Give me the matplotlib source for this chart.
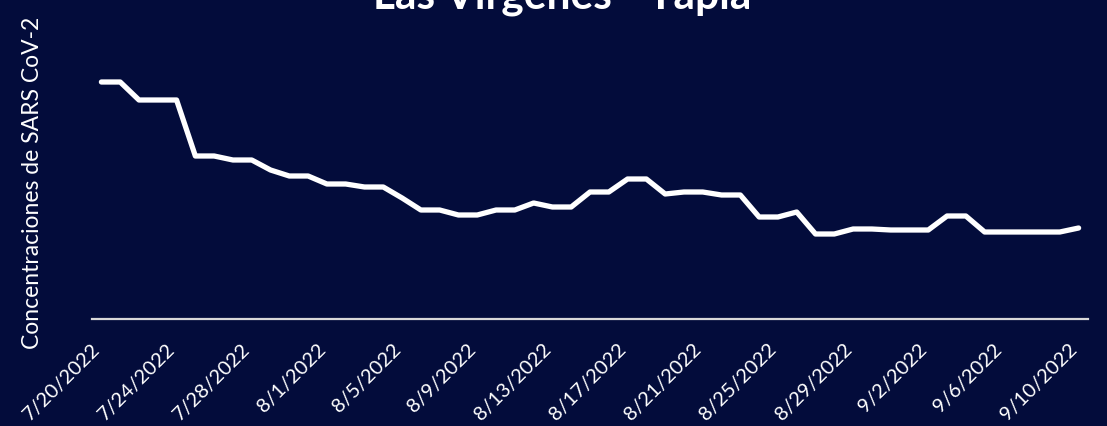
import matplotlib
matplotlib.use("Agg")
import matplotlib.pyplot as plt
import matplotlib.transforms as mtransforms
import pandas as pd

# ---- data ----
dates = pd.date_range("2022-07-20", "2022-09-10", freq="D")
values = [237, 237, 219, 219, 219, 163, 163, 159, 159, 149, 143, 143,
          135, 135, 132, 132, 121, 109, 109, 104, 104, 109, 109, 116, 112, 112,
          127, 127, 140, 140, 125, 127, 127, 124, 124, 102, 102, 107, 85, 85,
          90, 90, 89, 89, 89, 103, 103, 87, 87, 87, 87, 87, 91]
tick_every = 4
title = "Las Virgenes - Tapia"
ylabel = "Concentraciones de SARS CoV-2"

labels = [f"{d.month}/{d.day}/{d.year}" for d in dates]

BG = "#030c3b"
plt.rcParams['font.family'] = ['Lato', 'DejaVu Sans']

fig = plt.figure(figsize=(11.07, 4.26), dpi=100, facecolor=BG)
ax = fig.add_axes([92/1107, 1-319/426, 996/1107, 272/426])
ax.set_facecolor(BG)

x = list(range(len(values)))
ax.plot(x, values, color="white", lw=3.8, solid_capstyle="round", solid_joinstyle="round")

ax.set_xlim(-0.5, len(values) - 0.5)
ax.set_ylim(0, 272)

for s in ["top", "right", "left"]:
    ax.spines[s].set_visible(False)
ax.spines["bottom"].set_color("#d9d9d9")
ax.spines["bottom"].set_linewidth(1.6)

ax.set_yticks([])
tick_pos = x[::tick_every]
ax.set_xticks(tick_pos)
ax.set_xticklabels([labels[i] for i in tick_pos], rotation=45, ha="right", va="center",
                   rotation_mode="anchor", color="white", fontsize=14.5)
ax.tick_params(axis="x", length=0, pad=20)
offset = mtransforms.ScaledTranslation(-4/100, 0, fig.dpi_scale_trans)
for lab in ax.get_xticklabels():
    lab.set_transform(lab.get_transform() + offset)

fig.text(0.508, 1-8/426, title, ha="center", va="baseline", color="white",
         fontsize=30.5, fontweight="bold")
fig.text(33/1107, 1-183/426, ylabel, rotation=90, ha="center", va="center",
         color="white", fontsize=16.5)

fig.savefig("out.png", dpi=100, facecolor=BG)
